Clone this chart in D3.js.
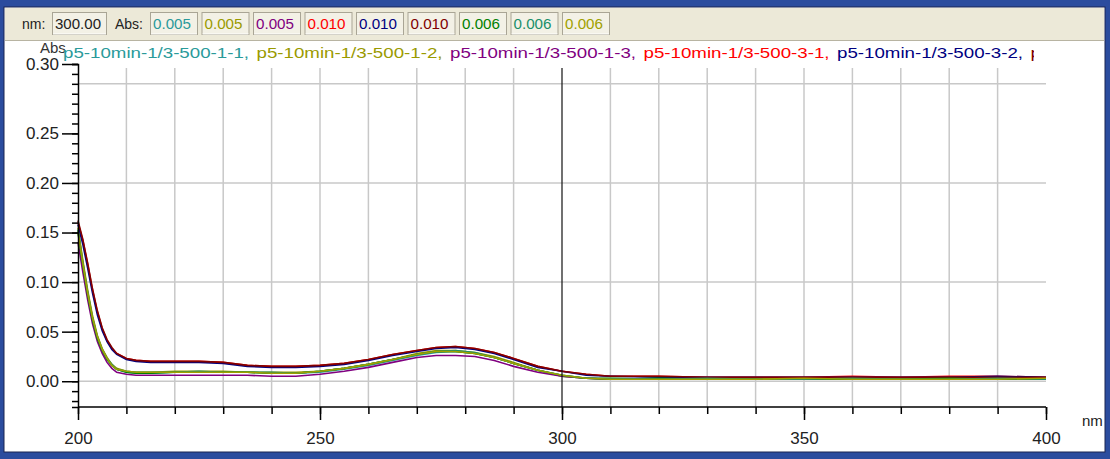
<!DOCTYPE html>
<html>
<head>
<meta charset="utf-8">
<script src="https://cdn.jsdelivr.net/npm/d3@7"></script>
<style>
  body { margin: 0; background: #fff; }
  svg { display: block; font-family: "Liberation Sans", Arial, sans-serif; }
</style>
</head>
<body>
<svg id="chart" width="1110" height="459"></svg>
<script>
// wavelengths (nm) shared by every spectrum
const wavelengths = [200, 201, 202, 203, 204, 205, 206, 207, 208, 210, 212, 215, 220, 225, 230, 235, 240, 245, 250, 255, 260, 265, 270, 274, 278, 282, 286, 290, 295, 300, 305, 310, 320, 330, 340, 350, 360, 370, 380, 390, 400];

const seriesNames = [
  "p5-10min-1/3-500-1-1", "p5-10min-1/3-500-1-2", "p5-10min-1/3-500-1-3",
  "p5-10min-1/3-500-3-1", "p5-10min-1/3-500-3-2", "p5-10min-1/3-500-3-3"
];
const seriesColors = ["#2a9a9a", "#9a9a00", "#800080", "#ff0000", "#000080", "#800000", "#008000", "#1a8f6a", "#a0a000"];

// absorbance
const abs11 = [0.152, 0.118, 0.088, 0.063, 0.044, 0.031, 0.022, 0.016, 0.012, 0.009, 0.008, 0.008, 0.009, 0.009, 0.009, 0.009, 0.008, 0.008, 0.009, 0.012, 0.016, 0.021, 0.026, 0.029, 0.030, 0.028, 0.024, 0.018, 0.011, 0.005, 0.003, 0.002, 0.002, 0.002, 0.002, 0.002, 0.003, 0.002, 0.002, 0.002, 0.002];
const abs12 = [0.155, 0.122, 0.092, 0.066, 0.046, 0.033, 0.024, 0.017, 0.013, 0.010, 0.009, 0.009, 0.010, 0.010, 0.010, 0.009, 0.009, 0.009, 0.010, 0.013, 0.017, 0.022, 0.028, 0.031, 0.031, 0.029, 0.025, 0.019, 0.011, 0.005, 0.003, 0.003, 0.002, 0.002, 0.003, 0.002, 0.002, 0.003, 0.002, 0.002, 0.003];
const abs13 = [0.140, 0.110, 0.082, 0.058, 0.040, 0.028, 0.019, 0.013, 0.009, 0.007, 0.006, 0.006, 0.006, 0.006, 0.006, 0.006, 0.005, 0.005, 0.007, 0.010, 0.014, 0.019, 0.024, 0.026, 0.026, 0.025, 0.021, 0.015, 0.009, 0.005, 0.003, 0.002, 0.002, 0.002, 0.002, 0.002, 0.002, 0.002, 0.002, 0.002, 0.002];
const abs31 = [0.160, 0.142, 0.118, 0.092, 0.070, 0.053, 0.041, 0.033, 0.028, 0.023, 0.021, 0.020, 0.020, 0.020, 0.019, 0.016, 0.015, 0.015, 0.016, 0.018, 0.022, 0.027, 0.031, 0.034, 0.035, 0.033, 0.029, 0.023, 0.015, 0.010, 0.007, 0.005, 0.005, 0.004, 0.004, 0.004, 0.005, 0.004, 0.005, 0.005, 0.004];
const abs32 = [0.158, 0.138, 0.114, 0.089, 0.067, 0.051, 0.040, 0.032, 0.027, 0.022, 0.020, 0.019, 0.019, 0.019, 0.018, 0.015, 0.014, 0.014, 0.015, 0.017, 0.021, 0.026, 0.030, 0.033, 0.034, 0.032, 0.028, 0.022, 0.014, 0.010, 0.006, 0.005, 0.004, 0.004, 0.004, 0.004, 0.004, 0.004, 0.004, 0.005, 0.004];
const abs33 = [0.162, 0.143, 0.119, 0.093, 0.071, 0.054, 0.042, 0.034, 0.028, 0.023, 0.021, 0.020, 0.020, 0.020, 0.019, 0.016, 0.015, 0.015, 0.016, 0.018, 0.022, 0.027, 0.031, 0.034, 0.035, 0.033, 0.029, 0.023, 0.015, 0.010, 0.007, 0.005, 0.005, 0.004, 0.004, 0.004, 0.004, 0.004, 0.004, 0.004, 0.004];
const abs21 = [0.150, 0.117, 0.087, 0.062, 0.043, 0.031, 0.022, 0.016, 0.012, 0.009, 0.008, 0.008, 0.009, 0.009, 0.009, 0.009, 0.008, 0.008, 0.010, 0.013, 0.017, 0.022, 0.027, 0.030, 0.030, 0.028, 0.024, 0.018, 0.011, 0.006, 0.003, 0.002, 0.003, 0.002, 0.002, 0.002, 0.002, 0.002, 0.003, 0.002, 0.002];
const abs22 = [0.153, 0.120, 0.090, 0.064, 0.045, 0.032, 0.023, 0.017, 0.012, 0.010, 0.009, 0.009, 0.009, 0.010, 0.009, 0.009, 0.009, 0.008, 0.010, 0.013, 0.017, 0.022, 0.027, 0.030, 0.031, 0.029, 0.024, 0.018, 0.011, 0.006, 0.003, 0.003, 0.002, 0.003, 0.002, 0.002, 0.003, 0.002, 0.002, 0.003, 0.002];
const abs23 = [0.151, 0.119, 0.089, 0.064, 0.045, 0.032, 0.023, 0.016, 0.012, 0.010, 0.009, 0.009, 0.009, 0.009, 0.009, 0.009, 0.008, 0.008, 0.010, 0.013, 0.017, 0.022, 0.027, 0.030, 0.030, 0.028, 0.024, 0.018, 0.011, 0.006, 0.003, 0.002, 0.002, 0.002, 0.002, 0.003, 0.002, 0.002, 0.002, 0.002, 0.003];
const seriesValues = [abs11, abs12, abs13, abs31, abs32, abs33, abs21, abs22, abs23];

// readout bar at the cursor
const cursorNm = 300;
const cursorReadout = ["0.005", "0.005", "0.005", "0.010", "0.010", "0.010", "0.006", "0.006", "0.006"];

// ticks (the instrument prints its top label at the axis end)
const xMajorTicks = [200, 250, 300, 350, 400];
const xMinorTicks = d3.range(200, 401, 10);
const yMajorTicks = [0, 0.05, 0.10, 0.15, 0.20, 0.25, 0.320];
const yTickLabels = ["0.00", "0.05", "0.10", "0.15", "0.20", "0.25", "0.30"];
const yMinorTicks = d3.range(-2, 33).map(d => d / 100);
const yGridTicks = [0, 0.10, 0.20, 0.30];

const svg = d3.select("#chart");
const W = 1110, H = 459;

// window frame
svg.append("rect").attr("width", W).attr("height", H).attr("fill", "#2b4c9e");
svg.append("rect").attr("x", 4).attr("y", 7).attr("width", 1101).attr("height", 445)
  .attr("fill", "#fff").attr("stroke", "#1b2450").attr("stroke-width", 1);

// readout toolbar
svg.append("rect").attr("x", 5).attr("y", 8).attr("width", 1099).attr("height", 32).attr("fill", "#ece9d8");
svg.append("line").attr("x1", 5).attr("x2", 1104).attr("y1", 40.5).attr("y2", 40.5).attr("stroke", "#b8b4a2");

const box = (bx, w, label, color, tw) => {
  svg.append("rect").attr("x", bx + 0.5).attr("y", 12.5).attr("width", w).attr("height", 22)
    .attr("fill", "#f3f1e6").attr("stroke", "#a9a595");
  svg.append("line").attr("x1", bx + 1).attr("x2", bx + w).attr("y1", 34).attr("y2", 34).attr("stroke", "#fff");
  svg.append("text").attr("x", bx + 3).attr("y", 29).attr("font-size", 14)
    .attr("textLength", tw).attr("lengthAdjust", "spacingAndGlyphs")
    .attr("fill", color).text(label);
};
svg.append("text").attr("x", 22).attr("y", 29).attr("font-size", 14).attr("fill", "#222").text("nm:");
box(52, 54, cursorNm.toFixed(2), "#222", 46);
svg.append("text").attr("x", 115).attr("y", 29).attr("font-size", 14).attr("fill", "#222").text("Abs:");
cursorReadout.forEach((v, i) => box(150 + i * 51.5, 47, v, seriesColors[i], 38));

// scales
const x = d3.scaleLinear().domain([200, 400]).range([78, 1046]);
const y = d3.scaleLinear().domain([-0.026, 0.320]).range([407, 64]);

// grid
const grid = svg.append("g");
grid.selectAll("line.v").data(xMinorTicks.filter(d => d > 200 && d < 400 && d !== cursorNm))
  .join("line").attr("x1", d => x(d)).attr("x2", d => x(d))
  .attr("y1", 68).attr("y2", y.range()[0])
  .attr("stroke", "#c8c8c8").attr("stroke-width", 1.5);
grid.selectAll("line.h").data(yGridTicks)
  .join("line").attr("x1", x(200)).attr("x2", x(400))
  .attr("y1", d => y(d)).attr("y2", d => y(d))
  .attr("stroke", "#c8c8c8").attr("stroke-width", 1.5);

// spectra
const line = d3.line().x((d, i) => x(wavelengths[i])).y(d => y(d));
svg.append("g").selectAll("path").data(seriesValues).join("path")
  .attr("fill", "none")
  .attr("stroke", (d, i) => seriesColors[i])
  .attr("stroke-width", 1.6)
  .attr("d", line);

// cursor
svg.append("line").attr("x1", x(cursorNm)).attr("x2", x(cursorNm))
  .attr("y1", 68).attr("y2", y.range()[0])
  .attr("stroke", "#111").attr("stroke-width", 1.2);

// axes
const xMinor = svg.append("g").attr("transform", `translate(0,${y.range()[0]})`)
  .call(d3.axisBottom(x).tickValues(xMinorTicks).tickSize(7).tickFormat(""));
const xMajor = svg.append("g").attr("transform", `translate(0,${y.range()[0]})`)
  .call(d3.axisBottom(x).tickValues(xMajorTicks).tickSize(13).tickPadding(12).tickFormat(d3.format("d")));
const yMinor = svg.append("g").attr("transform", `translate(${x(200)},0)`)
  .call(d3.axisLeft(y).tickValues(yMinorTicks).tickSize(6).tickFormat(""));
const yMajor = svg.append("g").attr("transform", `translate(${x(200)},0)`)
  .call(d3.axisLeft(y).tickValues(yMajorTicks).tickSize(16).tickPadding(3)
    .tickFormat((d, i) => yTickLabels[i]));

[xMinor, xMajor, yMinor, yMajor].forEach(g => {
  g.select(".domain").attr("stroke", "#000").attr("stroke-width", 1.5);
  g.selectAll(".tick line").attr("stroke", "#000").attr("stroke-width", 1.5);
  g.selectAll("text").attr("font-family", "Liberation Sans, Arial, sans-serif")
    .attr("font-size", 17).attr("fill", "#222");
});
xMinor.select(".domain").attr("d", `M${x(200)},0H${x(400)}`);
xMajor.select(".domain").remove();
yMajor.select(".domain").remove();

svg.append("text").attr("x", 1082).attr("y", 426).attr("font-size", 15).attr("fill", "#222").text("nm");

// legend line, cut off at the right like the instrument does
svg.append("defs").append("clipPath").attr("id", "legendClip")
  .append("rect").attr("x", 30).attr("y", 40).attr("width", 1004).attr("height", 26);
svg.append("text").attr("x", 40).attr("y", 53).attr("font-size", 15).attr("fill", "#333").text("Abs");
seriesNames.forEach((name, i) => {
  svg.append("text").attr("x", 63 + i * 193.5).attr("y", 58).attr("font-size", 15)
    .attr("clip-path", "url(#legendClip)")
    .attr("fill", seriesColors[i])
    .attr("textLength", 186).attr("lengthAdjust", "spacingAndGlyphs")
    .text(name + ",");
});
</script>
</body>
</html>
